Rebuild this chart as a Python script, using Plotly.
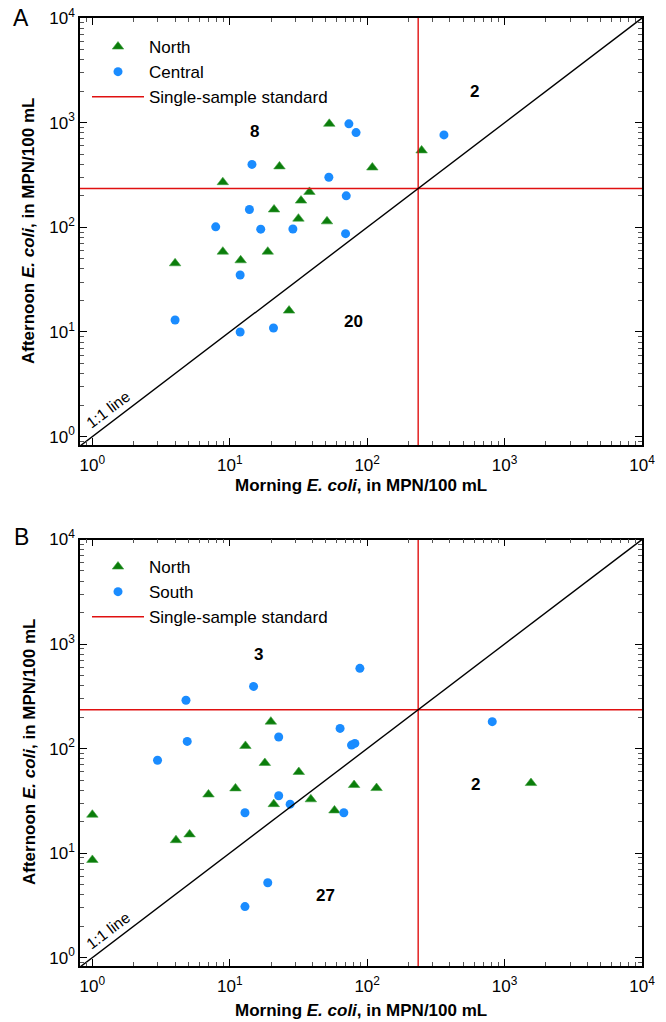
import numpy as np
import plotly.graph_objects as go

# ---------------- data ----------------
STANDARD = 235  # single-sample standard, MPN/100 mL

a_north_x = [53, 23, 109, 8.9, 38, 33, 21, 31.6, 51, 8.9, 18.9, 12, 4.0, 27, 249]
a_north_y = [975, 382, 373, 270, 218, 180, 148, 121, 114, 58.5, 58.5, 48.4, 45.3, 16.0, 543]
a_central_x = [73.6, 83, 14.5, 52.6, 70.4, 13.9, 7.9, 16.8, 28.8, 69.6, 11.9, 4.0, 11.9, 20.8, 362]
a_central_y = [975, 804, 399, 301, 200, 148, 101, 96, 96.4, 87, 35, 13.0, 10, 10.9, 764]

b_north_x = [1.0, 1.0, 19.9, 13.0, 18.0, 31.8, 11.0, 7.0, 20.9, 38.9, 57.8, 80.3, 117, 4.06, 5.1, 1556]
b_north_y = [23.3, 8.6, 181, 106, 72.8, 59.7, 41.6, 36.4, 29.4, 32.7, 25.6, 44.8, 41.9, 13.3, 15.1, 46.8]
b_south_x = [4.8, 4.9, 2.98, 22.7, 63.5, 76.9, 81.3, 22.7, 27.5, 12.9, 67.6, 18.9, 12.9, 14.9, 88.5, 813]
b_south_y = [290, 117, 77.3, 129, 156, 108, 112, 35.4, 29.4, 24.3, 24.3, 5.2, 3.08, 393, 585, 181]

# quadrant counts: (label, x, y)
a_counts = [("8", 15.2, 818), ("2", 608, 1995), ("20", 80, 12.7)]
b_counts = [("3", 16.3, 802), ("2", 612, 45.2), ("27", 50, 3.93)]

tick_vals = [1, 10, 100, 1000, 10000]
tick_text = ["10<sup>0</sup>", "10<sup>1</sup>", "10<sup>2</sup>", "10<sup>3</sup>", "10<sup>4</sup>"]
one_to_one = [0.1, 100000]

# ---------------- styling ----------------
FONT = "Liberation Sans, Arial, sans-serif"
GREEN = "#0b7d0b"
BLUE = "#1a8cff"
RED = "#e01010"

W, H = 666, 1022
ML, MR, MT, MB = 80, 24, 18, 56
PW = W - ML - MR
PH = H - MT - MB


def px_x(X):
    return (X - ML) / PW


def px_y(Y):
    return (H - MB - Y) / PH


fig = go.Figure()


def add_panel(xa, ya, legend, n_x, n_y, o_x, o_y, other_name):
    fig.add_trace(go.Scatter(
        x=n_x, y=n_y, mode="markers", name="North",
        marker=dict(symbol="triangle-up", size=10, color=GREEN,
                    line=dict(width=0.6, color="#3fa03f")),
        xaxis=xa, yaxis=ya, legend=legend))
    fig.add_trace(go.Scatter(
        x=o_x, y=o_y, mode="markers", name=other_name,
        marker=dict(symbol="circle", size=9, color=BLUE, line=dict(width=0)),
        xaxis=xa, yaxis=ya, legend=legend))
    fig.add_trace(go.Scatter(
        x=[STANDARD, STANDARD, None, one_to_one[0], one_to_one[1]],
        y=[one_to_one[0], one_to_one[1], None, STANDARD, STANDARD],
        mode="lines", name="Single-sample standard",
        line=dict(color=RED, width=1.4),
        xaxis=xa, yaxis=ya, legend=legend))
    fig.add_trace(go.Scatter(
        x=one_to_one, y=one_to_one, mode="lines", showlegend=False,
        line=dict(color="black", width=1.4), hoverinfo="skip",
        xaxis=xa, yaxis=ya))


add_panel("x", "y", "legend", a_north_x, a_north_y, a_central_x, a_central_y, "Central")
add_panel("x2", "y2", "legend2", b_north_x, b_north_y, b_south_x, b_south_y, "South")

axis_common = dict(
    type="log", range=[-0.09, 4], tickvals=tick_vals, ticktext=tick_text,
    ticks="inside", ticklen=7, tickwidth=1, tickcolor="black",
    showline=True, linecolor="black", linewidth=1.5, mirror="allticks",
    showgrid=False, zeroline=False, automargin=False,
    tickfont=dict(family=FONT, size=17, color="black"),
    minor=dict(ticks="inside", ticklen=4, tickwidth=1, tickcolor="#555", dtick="D1", showgrid=False),
)
xaxis_common = dict(axis_common, ticklabelstandoff=4)
yaxis_common = dict(axis_common)
yaxis_common["range"] = [-0.08, 4]

legend_common = dict(xanchor="left", yanchor="top", itemwidth=52,
                     font=dict(family=FONT, size=17), bgcolor="rgba(0,0,0,0)",
                     tracegroupgap=0)

fig.update_layout(
    width=W, height=H,
    margin=dict(l=ML, r=MR, t=MT, b=MB, autoexpand=False),
    paper_bgcolor="white", plot_bgcolor="white",
    font=dict(family=FONT, color="black"),
    xaxis=dict(xaxis_common, anchor="y", domain=[0, 1]),
    yaxis=dict(yaxis_common, anchor="x", domain=[px_y(445), 1]),
    xaxis2=dict(xaxis_common, anchor="y2", domain=[0, 1]),
    yaxis2=dict(yaxis_common, anchor="x2", domain=[0, px_y(539.5)]),
    legend=dict(legend_common, x=px_x(87), y=px_y(29)),
    legend2=dict(legend_common, x=px_x(87), y=px_y(549)),
    showlegend=True,
)

annotations = []
for (xr, yr, counts) in [("x", "y", a_counts), ("x2", "y2", b_counts)]:
    for lab, cx, cy in counts:
        annotations.append(dict(
            x=np.log10(cx), y=np.log10(cy), xref=xr, yref=yr, text="<b>%s</b>" % lab,
            showarrow=False, font=dict(family=FONT, size=17, color="black")))
    annotations.append(dict(
        x=np.log10(1.3), y=np.log10(1.82), xref=xr, yref=yr, text="1:1 line",
        textangle=-37, showarrow=False, font=dict(family=FONT, size=15.5, color="black")))

xtitle = "<b>Morning <i>E. coli</i>, in MPN/100 mL</b>"
ytitle = "<b>Afternoon <i>E. coli</i>, in MPN/100 mL</b>"
# axis titles (paper coords)
for ycen_px, xt_px in [(231, 485), (752, 1010)]:
    annotations.append(dict(
        x=0.5, y=px_y(xt_px), xref="paper", yref="paper", text=xtitle,
        xanchor="center", yanchor="middle",
        showarrow=False, font=dict(family=FONT, size=17, color="black")))
    annotations.append(dict(
        x=px_x(29), y=px_y(ycen_px), xref="paper", yref="paper", text=ytitle,
        xanchor="center", yanchor="middle",
        textangle=-90, showarrow=False, font=dict(family=FONT, size=17, color="black")))

# panel letters
annotations.append(dict(x=px_x(21), y=px_y(18), xref="paper", yref="paper",
                        xanchor="center", yanchor="middle",
                        text="A", showarrow=False, font=dict(family=FONT, size=23, color="black")))
annotations.append(dict(x=px_x(21), y=px_y(537), xref="paper", yref="paper",
                        xanchor="center", yanchor="middle",
                        text="B", showarrow=False, font=dict(family=FONT, size=23, color="black")))

fig.update_layout(annotations=annotations)

fig.write_html("out.html", config={"displayModeBar": False},
               post_script="document.body.style.margin='0';document.body.style.overflow='hidden';")
